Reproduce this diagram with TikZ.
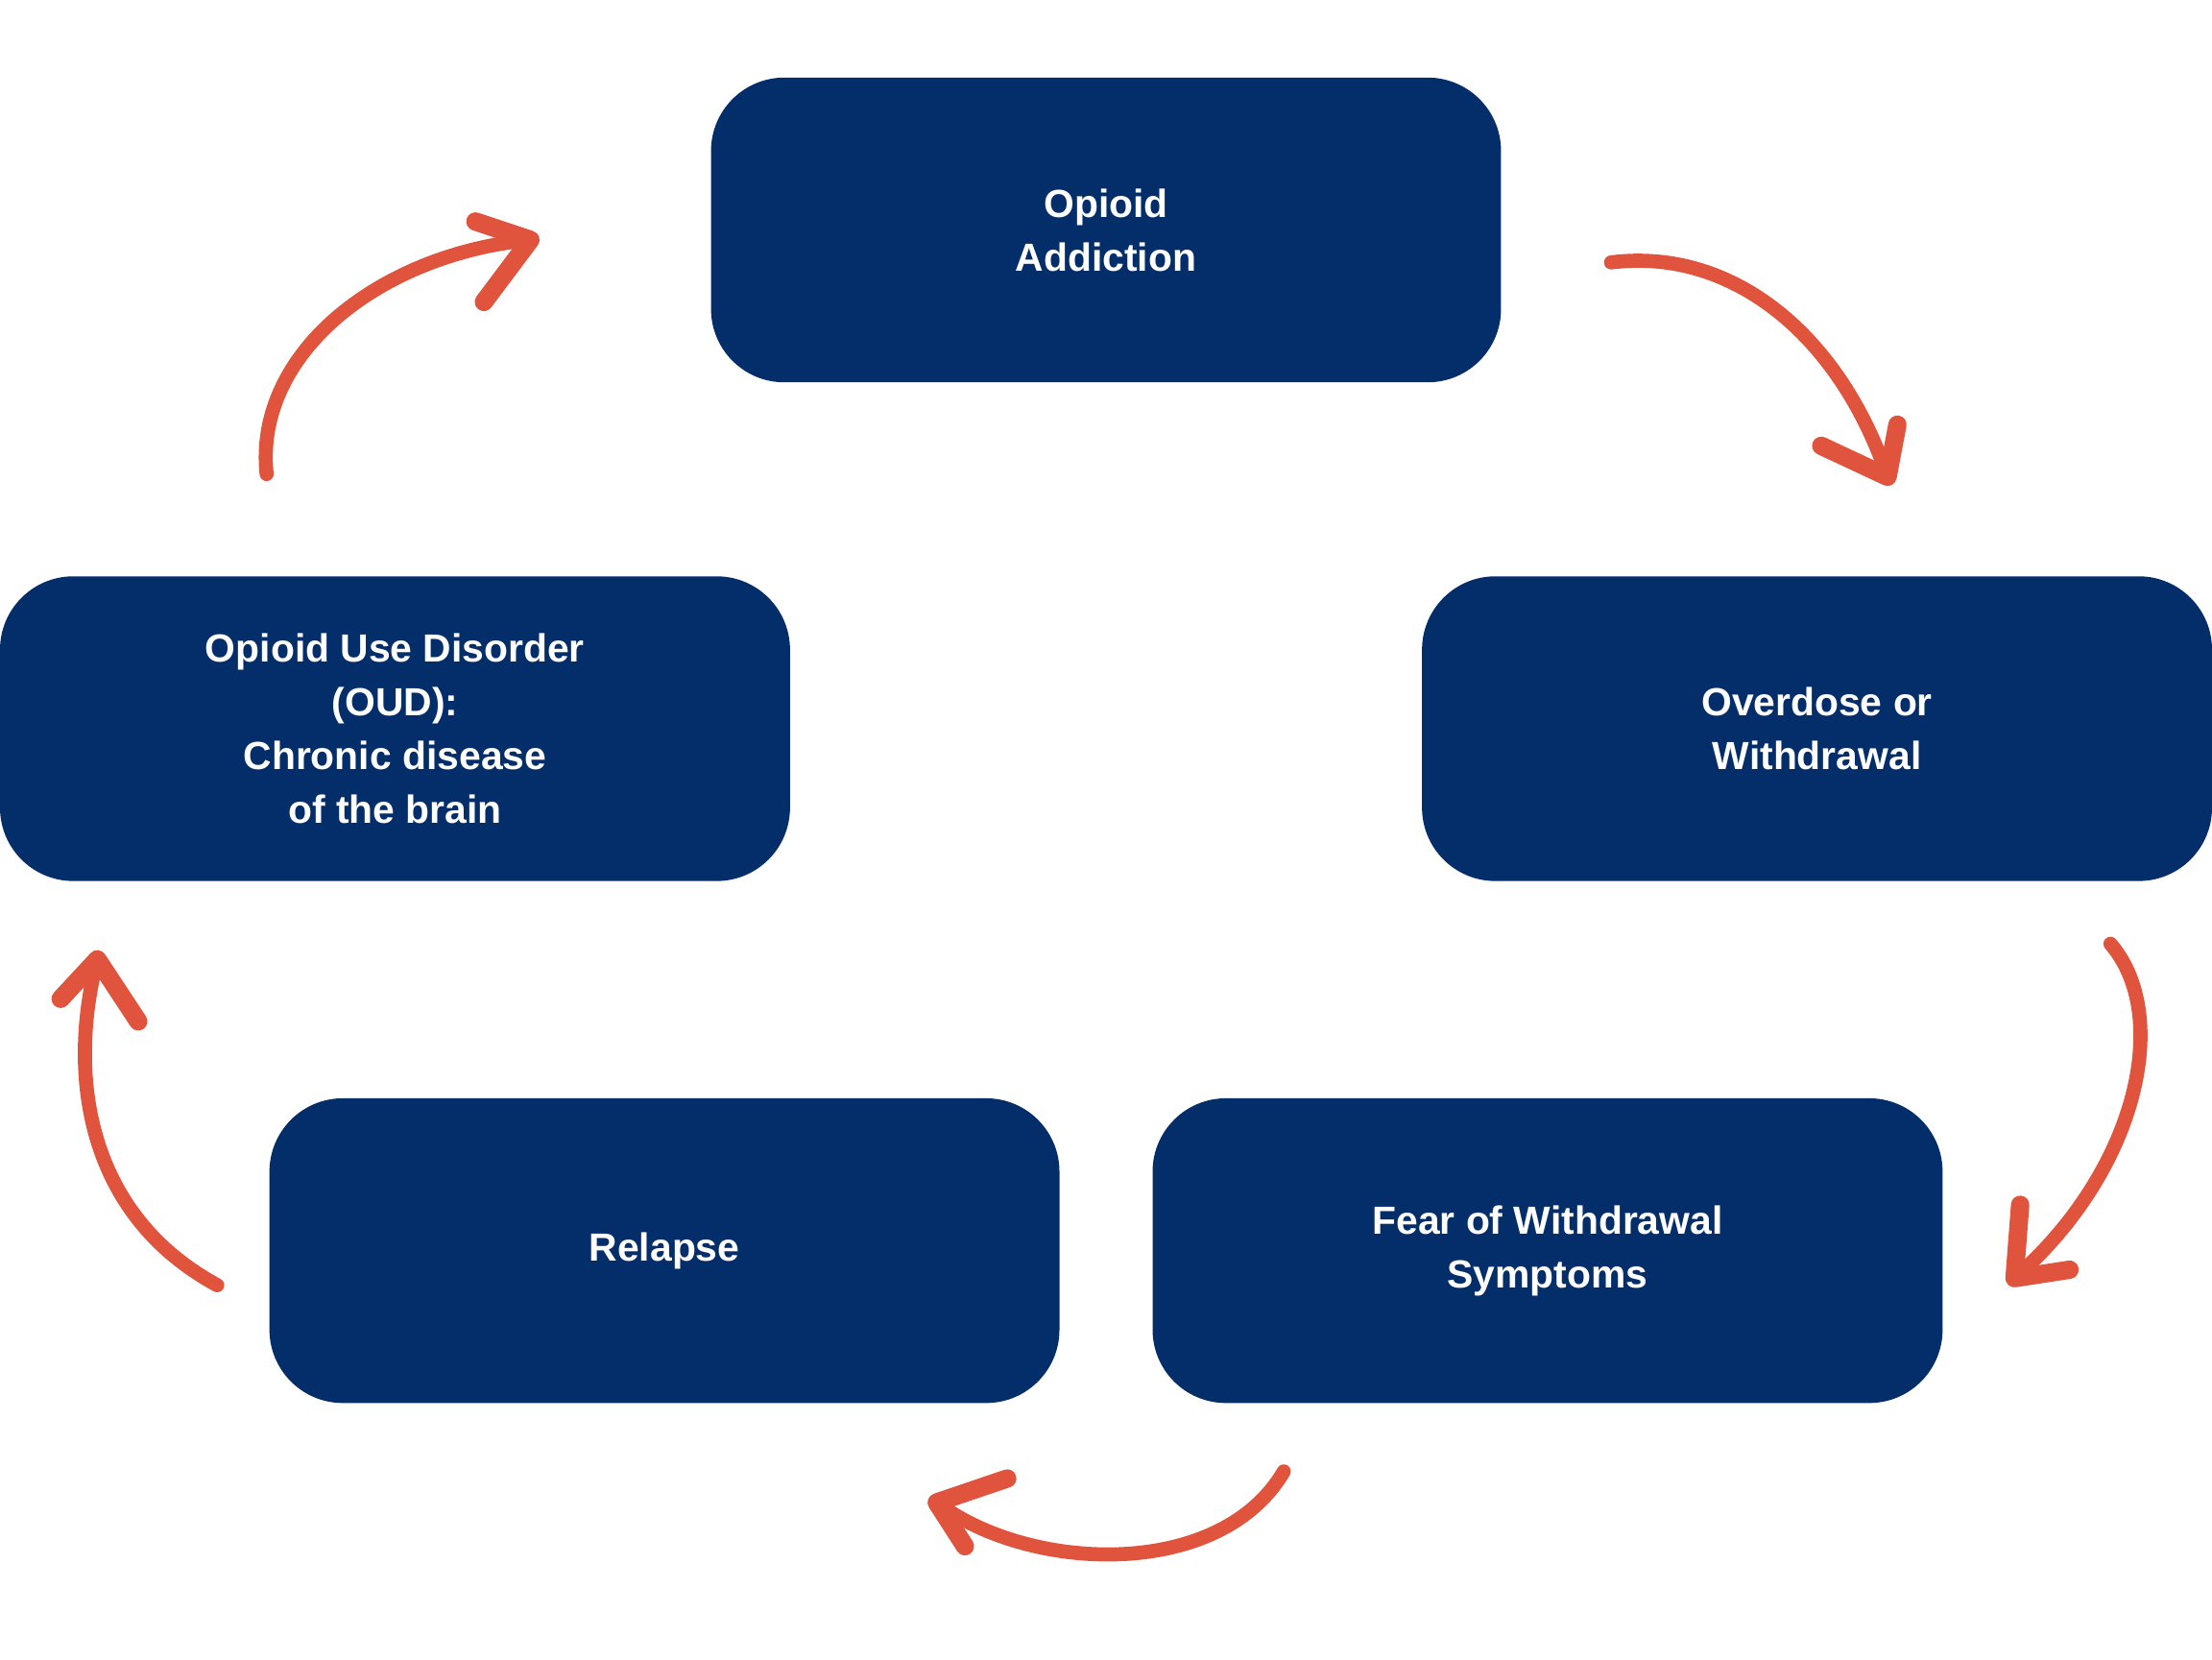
\documentclass[tikz,border=0pt]{standalone}
\usepackage{fontspec}
\setmainfont{Liberation Sans}
\definecolor{navy}{HTML}{032E69}
\definecolor{arrowred}{HTML}{E0533D}
\begin{document}
\begin{tikzpicture}[x=1pt,y=-1pt,
  box/.style={draw=none,fill=navy,rounded corners=52pt,minimum width=560pt,minimum height=216pt,
    inner sep=0pt,text=white,align=center,font=\fontsize{27.8}{38}\selectfont\bfseries},
  shaft/.style={draw=arrowred,line width=10pt,line cap=round},
  barb/.style={draw=arrowred,line width=13pt,line cap=round,line join=round}]
\useasboundingbox (0,0) rectangle (1568,1176);
\node[box] (b1) at (784,163) {Opioid\\Addiction};
\node[box] (b2) at (1288,516.5) {Overdose or\\Withdrawal};
\node[box] (b3) at (280,516.5) {Opioid Use Disorder\\(OUD):\\Chronic disease\\of the brain};
\node[box] (b4) at (471,886.5) {Relapse};
\node[box] (b5) at (1097,886.5) {Fear of Withdrawal\\Symptoms};
% arrow 1
\coordinate (s1) at (1142,186);
\coordinate (t1) at (1338,338);
\draw[shaft] (s1) .. controls (1230,175) and (1305,240) .. (t1);
\draw[barb] (1291,316) -- (t1) -- (1345,301);
% arrow 2
\coordinate (s2) at (1496,669);
\coordinate (t2) at (1428,906);
\draw[shaft] (s2) .. controls (1540,720) and (1515,830) .. (t2);
\draw[barb] (1432,854) -- (t2) -- (1467,900);
% arrow 3
\coordinate (s3) at (910,1043);
\coordinate (t3) at (664,1065);
\draw[shaft] (s3) .. controls (865,1120) and (730,1115) .. (t3);
\draw[barb] (714,1048) -- (t3) -- (684,1096);
% arrow 4
\coordinate (s4) at (154,911);
\coordinate (t4) at (69,680);
\draw[shaft] (s4) .. controls (60,860) and (48,760) .. (t4);
\draw[barb] (43,708) -- (t4) -- (98,724);
% arrow 5
\coordinate (s5) at (189,336);
\coordinate (t5) at (376,170);
\draw[shaft] (s5) .. controls (180,250) and (270,180) .. (t5);
\draw[barb] (337,157) -- (t5) -- (343,214);
\end{tikzpicture}
\end{document}
